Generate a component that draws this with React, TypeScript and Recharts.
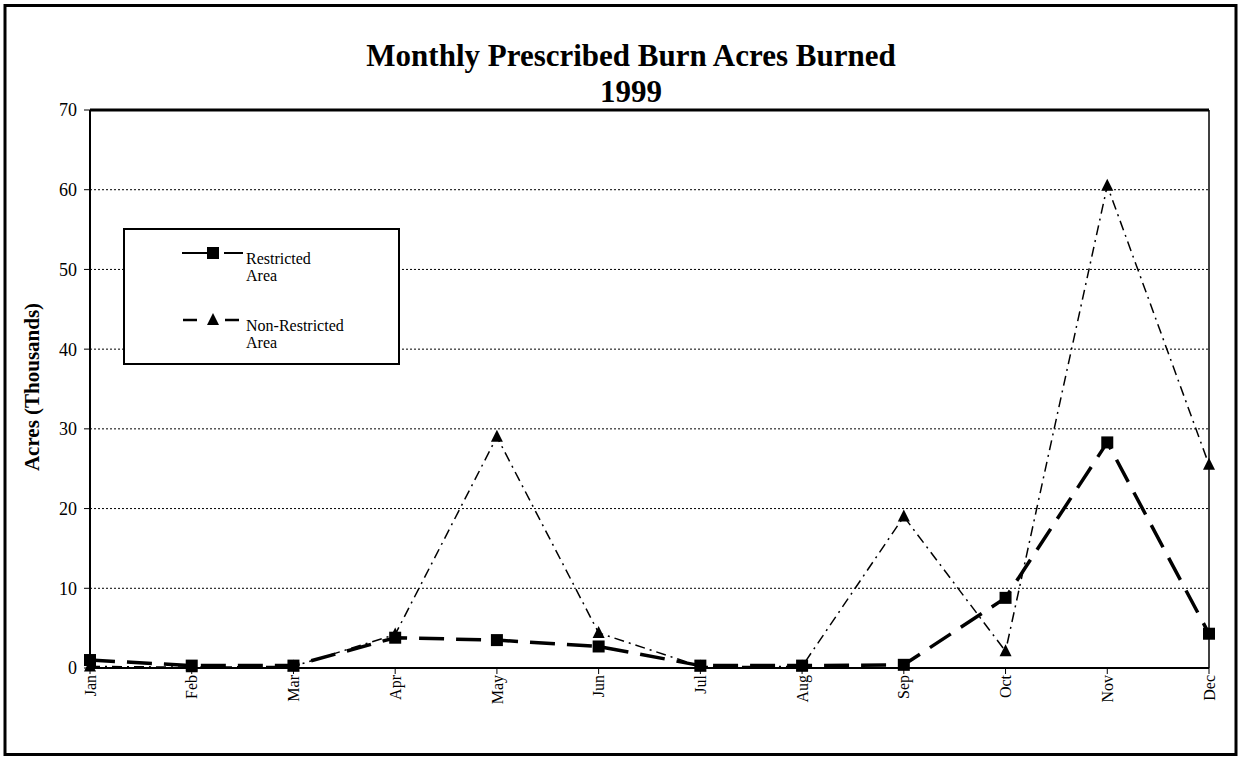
import React from "react";
import {
  CartesianGrid,
  Customized,
  Legend,
  Line,
  LineChart,
  ReferenceLine,
  XAxis,
  YAxis,
} from "recharts";

const months = ["Jan", "Feb", "Mar", "Apr", "May", "Jun", "Jul", "Aug", "Sep", "Oct", "Nov", "Dec"];
// acres burned, thousands
const restricted = [1.0, 0.3, 0.3, 3.8, 3.5, 2.7, 0.3, 0.3, 0.4, 8.8, 28.3, 4.3];
const nonRestricted = [0.2, 0.1, 0.2, 4.2, 29.0, 4.4, 0.2, 0.2, 19.0, 2.1, 60.5, 25.5];
const yTicks = [0, 10, 20, 30, 40, 50, 60, 70];

const data = months.map((m, i) => ({
  month: m,
  restricted: restricted[i],
  nonRestricted: nonRestricted[i],
}));

const FONT = '"Liberation Serif", "Times New Roman", serif';

const SquareDot = (props: any) => {
  const { cx, cy, index } = props;
  if (cx == null || cy == null) return <g key={`sq-${index}`} />;
  return <rect key={`sq-${index}`} x={cx - 6} y={cy - 6} width={12} height={12} fill="#000" />;
};

const TriangleDot = (props: any) => {
  const { cx, cy, index } = props;
  if (cx == null || cy == null) return <g key={`tr-${index}`} />;
  return (
    <polygon
      key={`tr-${index}`}
      points={`${cx},${cy - 7} ${cx + 6},${cy + 5} ${cx - 6},${cy + 5}`}
      fill="#000"
    />
  );
};

const MonthTick = (props: any) => {
  const { x, y, payload } = props;
  return (
    <text
      transform={`translate(${x},${y - 1}) rotate(-90)`}
      textAnchor="end"
      dy="0.35em"
      fontFamily={FONT}
      fontSize={16}
      fill="#000"
    >
      {payload.value}
    </text>
  );
};

// frame, title and axis title, all in the svg
const Decorations = () => (
  <g>
    <path d="M5,5.5 H1236 V754.5 H5 Z" fill="none" stroke="#000" strokeWidth={3} />
    <text x={631} y={66} textAnchor="middle" fontFamily={FONT} fontWeight="bold" fontSize={31} fill="#000">
      Monthly Prescribed Burn Acres Burned
    </text>
    <text x={631} y={102} textAnchor="middle" fontFamily={FONT} fontWeight="bold" fontSize={31} fill="#000">
      1999
    </text>
    <text
      transform="translate(39,387) rotate(-90)"
      textAnchor="middle"
      fontFamily={FONT}
      fontWeight="bold"
      fontSize={21}
      fill="#000"
    >
      Acres (Thousands)
    </text>
  </g>
);

// legend box drawn by hand, like the old excel one
const LegendBox = () => (
  <div
    style={{
      width: 277,
      height: 137,
      boxSizing: "border-box",
      border: "2px solid #000",
      background: "#fff",
      position: "relative",
      fontFamily: FONT,
      fontSize: 16,
      lineHeight: "17px",
    }}
  >
    <svg width={277} height={137} style={{ position: "absolute", left: -2, top: -2 }}>
      <line x1={59} y1={25} x2={84} y2={25} stroke="#000" strokeWidth={2} />
      <line x1={101} y1={25} x2={120} y2={25} stroke="#000" strokeWidth={2} />
      <rect x={84} y={19} width={12} height={12} fill="#000" />
      <line x1={60} y1={92} x2={74} y2={92} stroke="#000" strokeWidth={2.5} />
      <line x1={102} y1={92} x2={116} y2={92} stroke="#000" strokeWidth={2.5} />
      <polygon points="90,85 96,97 84,97" fill="#000" />
    </svg>
    <div style={{ position: "absolute", left: 121, top: 20 }}>
      Restricted
      <br />
      Area
    </div>
    <div style={{ position: "absolute", left: 121, top: 87 }}>
      Non-Restricted
      <br />
      Area
    </div>
  </div>
);

export default function App() {
  return (
    <div style={{ position: "relative", width: 1240, height: 758, background: "#fff" }}>
      <style>{"body { margin: 0; }"}</style>
      <LineChart
        width={1240}
        height={758}
        data={data}
        margin={{ top: 110, right: 31, bottom: 30, left: 40 }}
      >
        <CartesianGrid vertical={false} stroke="#000" strokeDasharray="2 2" />
        <XAxis
          dataKey="month"
          interval={0}
          height={60}
          tick={<MonthTick />}
          tickLine={{ stroke: "#000" }}
          axisLine={{ stroke: "#000", strokeWidth: 2 }}
        />
        <YAxis
          width={50}
          domain={[0, 70]}
          ticks={yTicks}
          interval={0}
          tickMargin={7}
          tick={{ fill: "#000", fontFamily: FONT, fontSize: 18 }}
          tickLine={{ stroke: "#000" }}
          axisLine={{ stroke: "#000", strokeWidth: 2 }}
        />
        <ReferenceLine y={70} stroke="#000" strokeWidth={3} />
        <ReferenceLine x="Dec" stroke="#000" strokeWidth={1.5} />
        <Customized component={Decorations} />
        <Legend
          layout="horizontal"
          align="center"
          verticalAlign="middle"
          content={() => <LegendBox />}
          wrapperStyle={{ left: 123, top: 228, width: 277, height: 137 }}
        />
        <Line
          dataKey="nonRestricted"
          name="Non-Restricted Area"
          type="linear"
          stroke="#000"
          strokeWidth={1.5}
          strokeDasharray="10 5 2 5"
          dot={TriangleDot}
          activeDot={false}
          isAnimationActive={false}
        />
        <Line
          dataKey="restricted"
          name="Restricted Area"
          type="linear"
          stroke="#000"
          strokeWidth={3.5}
          strokeDasharray="25 12"
          dot={SquareDot}
          activeDot={false}
          isAnimationActive={false}
        />
      </LineChart>
    </div>
  );
}
